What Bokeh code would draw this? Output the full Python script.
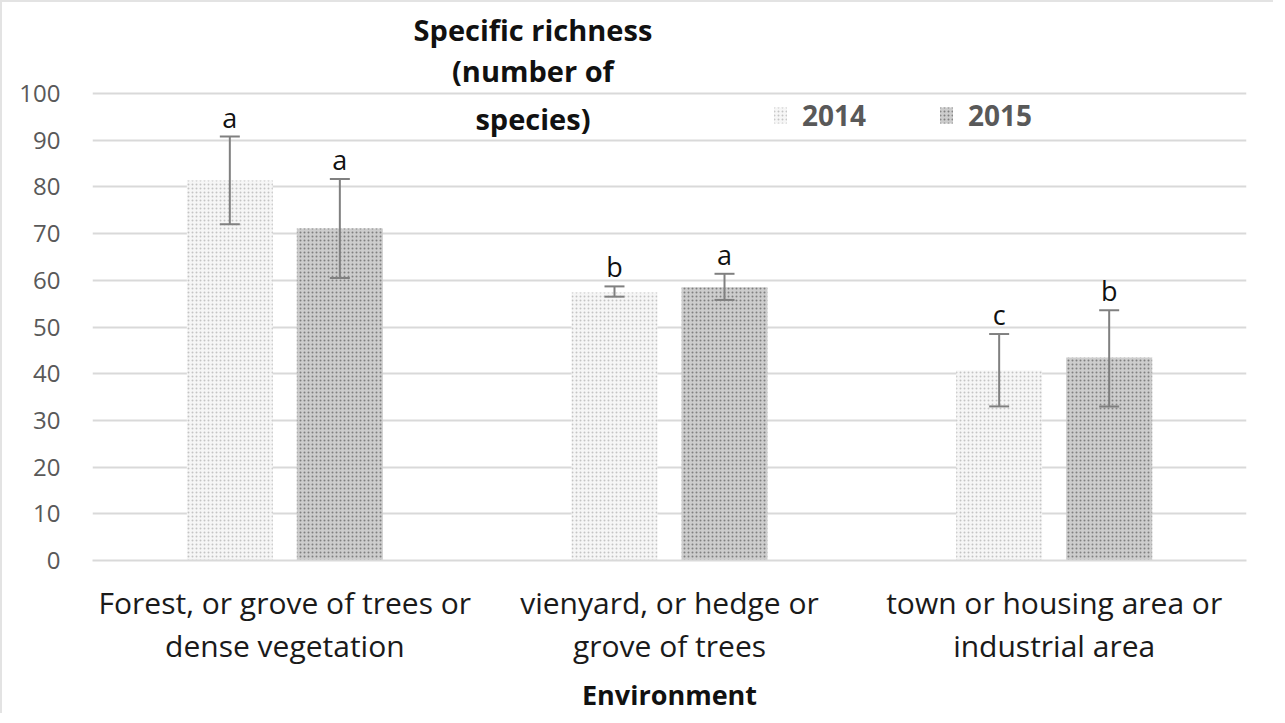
from bokeh.plotting import figure
from bokeh.models import (ColumnDataSource, Range1d, FixedTicker, Whisker, TeeHead, Legend,
                          LegendItem, LinearAxis)
from bokeh.core.properties import value
from bokeh.embed import file_html
from bokeh.resources import INLINE

categories_line1 = ["Forest, or grove of trees or", "vienyard, or hedge or", "town or housing area or"]
categories_line2 = ["dense vegetation", "grove of trees", "industrial area"]
years = ["2014", "2015"]
mean_2014 = [81.4, 57.4, 40.7]
mean_2015 = [71.1, 58.5, 43.5]
low_2014 = [72.0, 56.5, 33.0]
high_2014 = [90.8, 58.7, 48.5]
low_2015 = [60.5, 55.8, 33.0]
high_2015 = [81.7, 61.4, 53.6]
letters_2014 = ["a", "b", "c"]
letters_2015 = ["a", "a", "b"]
y_ticks = [0, 10, 20, 30, 40, 50, 60, 70, 80, 90, 100]

FONT = "Open Sans"
centers = [i + 0.5 for i in range(len(categories_line1))]
off = 0.143
bw = 0.2235

p = figure(width=1273, height=713, output_backend="svg", toolbar_location=None,
           x_range=Range1d(0, 3), y_range=Range1d(0, 118),
           min_border_left=90, min_border_right=29, min_border_top=7, min_border_bottom=60,
           styles={"border-left": "2px solid #e3e3e3", "border-top": "2px solid #e3e3e3"})
p.outline_line_color = None
p.background_fill_color = "white"
p.border_fill_color = "white"

src14 = ColumnDataSource(dict(x=[c - off for c in centers], top=mean_2014, lo=low_2014, hi=high_2014, lab=letters_2014))
src15 = ColumnDataSource(dict(x=[c + off for c in centers], top=mean_2015, lo=low_2015, hi=high_2015, lab=letters_2015))

r14 = p.vbar(x="x", top="top", width=bw, source=src14, fill_color="#f6f6f6", line_color=None,
             hatch_pattern="dot", hatch_color="#c4c4c4", hatch_scale=4, hatch_weight=1)
r15 = p.vbar(x="x", top="top", width=bw, source=src15, fill_color="#cdcdcd", line_color=None,
             hatch_pattern="dot", hatch_color="#808080", hatch_scale=4, hatch_weight=1)

for src in (src14, src15):
    w = Whisker(base="x", lower="lo", upper="hi", source=src, line_color="#808080", line_width=2,
                upper_head=TeeHead(size=20, line_color="#808080", line_width=2),
                lower_head=TeeHead(size=20, line_color="#808080", line_width=2),
                level="overlay")
    p.add_layout(w)
    p.text(x="x", y="hi", text="lab", source=src, text_align="center", text_baseline="bottom",
           y_offset=-1, text_font=value(FONT), text_font_size="27px", text_color="#111111")

# y axis
p.yaxis.ticker = FixedTicker(ticks=y_ticks)
p.yaxis.axis_line_color = None
p.yaxis.major_tick_line_color = None
p.yaxis.minor_tick_line_color = None
p.yaxis.major_label_text_font = FONT
p.yaxis.major_label_text_font_size = "24px"
p.yaxis.major_label_text_color = "#595959"
p.yaxis.major_label_standoff = 26

# x axis: first line of category labels
xa = p.xaxis[0]
xa.ticker = FixedTicker(ticks=centers)
xa.major_label_overrides = {c: lab for c, lab in zip(centers, categories_line1)}
xa.axis_line_color = "#d9d9d9"
xa.axis_line_width = 2
xa.major_tick_line_color = None
xa.minor_tick_line_color = None
xa.major_label_text_font = FONT
xa.major_label_text_font_size = "30px"
xa.major_label_text_color = "#1a1a1a"
xa.major_label_standoff = 15

# second line of category labels + axis title
xb = LinearAxis(ticker=FixedTicker(ticks=centers),
                major_label_overrides={c: lab for c, lab in zip(centers, categories_line2)})
xb.axis_line_color = None
xb.major_tick_line_color = None
xb.minor_tick_line_color = None
xb.major_label_text_font = FONT
xb.major_label_text_font_size = "30px"
xb.major_label_text_color = "#1a1a1a"
xb.major_label_standoff = -7
xb.axis_label = "Environment"
xb.axis_label_text_font = FONT
xb.axis_label_text_font_style = "bold"
xb.axis_label_text_font_size = "27px"
xb.axis_label_text_color = "#111111"
xb.axis_label_standoff = 7
p.add_layout(xb, "below")

p.xgrid.grid_line_color = None
p.ygrid.ticker = FixedTicker(ticks=y_ticks)
p.ygrid.grid_line_color = "#d9d9d9"
p.ygrid.grid_line_width = 2

# y title placed at top
title_lines = ["Specific richness", "(number of", "species)"]
title_y = [113.7, 104.9, 94.6]
p.text(x=[1.145] * 3, y=title_y, text=title_lines, text_align="center", text_baseline="middle",
       text_font=value(FONT), text_font_style="bold", text_font_size="29px", text_color="#111111")

legend = Legend(items=[LegendItem(label=years[0], renderers=[r14]),
                       LegendItem(label=years[1], renderers=[r15])],
                orientation="horizontal", location=(680, 426),
                glyph_width=16, glyph_height=20, spacing=72, label_standoff=14,
                label_text_font=FONT, label_text_font_style="bold", label_text_font_size="28px",
                label_text_color="#595959", border_line_color=None, background_fill_alpha=0)
p.add_layout(legend)

open("out.html", "w").write(file_html(p, INLINE))
